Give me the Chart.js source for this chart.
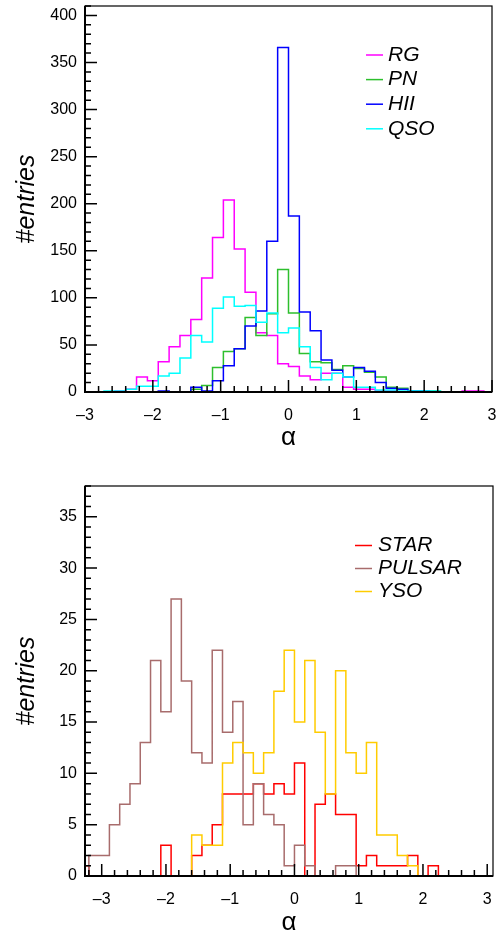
<!DOCTYPE html>
<html>
<head>
<meta charset="utf-8">
<script src="https://cdn.jsdelivr.net/npm/chart.js@4.4.1/dist/chart.umd.min.js"></script>
<style>
  html, body { margin: 0; padding: 0; background: #fff; }
  canvas { display: block; }
</style>
</head>
<body>
<canvas id="topChart" width="502" height="466"></canvas>
<canvas id="bottomChart" width="502" height="466"></canvas>
<script>
// histogram bins: width 0.16 in alpha
const binWidth = 0.16;

// top panel, first bin edge at -3.04
const topFirstEdge = -3.04;
const topLabels = ['RG', 'PN', 'HII', 'QSO'];
const rgCounts  = [0,0,0,1,3,16,12,32,48,60,77,121,164,204,152,106,63,60,30,27,17,13,20,20,5,3,3,1,1,0,0,0,0,0,0,1,1,0];
const pnCounts  = [0,0,0,0,0,0,0,0,0,0,3,7,26,43,46,79,60,83,130,84,41,32,31,24,28,25,21,16,5,4,1,1,1,0,0,0,0,0];
const hiiCounts = [0,0,0,0,0,0,0,1,0,0,5,1,12,28,46,70,86,160,366,187,85,65,34,23,16,26,22,10,4,3,1,1,0,0,0,0,0,0];
const qsoCounts = [0,0,1,1,3,6,6,17,20,36,60,53,89,101,91,92,74,84,63,68,48,26,13,20,16,5,5,2,2,1,1,1,1,0,0,0,0,0];

// bottom panel, first bin edge at -3.36
const bottomFirstEdge = -3.36;
const bottomLabels = ['STAR', 'PULSAR', 'YSO'];
const starCounts   = [1,0,0,0,0,0,0,0,3,0,0,2,3,5,8,8,8,9,8,9,8,11,0,7,8,6,6,1,2,1,1,1,2,0,1,0,0,0,0,0,0];
const pulsarCounts = [0,2,2,5,7,9,13,21,16,27,19,12,11,22,14,17,5,9,6,5,1,3,1,0,0,1,1,0,0,0,0,0,0,0,0,0,0,0,0,0,0];
const ysoCounts    = [0,0,0,0,0,0,0,0,0,0,0,4,3,3,11,13,12,10,12,18,22,15,21,14,8,20,12,10,13,4,4,2,1,0,0,0,0,0,0,0,0];

// axes
const xTickValues = [-3, -2, -1, 0, 1, 2, 3];
const topYTicks = [0, 50, 100, 150, 200, 250, 300, 350, 400];
const bottomYTicks = [0, 5, 10, 15, 20, 25, 30, 35];

const fontFamily = "'Liberation Sans', Arial, Helvetica, sans-serif";

function histPoints(firstEdge, counts) {
  const pts = [{ x: firstEdge, y: 0 }];
  counts.forEach((c, i) => pts.push({ x: firstEdge + i * binWidth, y: c }));
  pts.push({ x: firstEdge + counts.length * binWidth, y: 0 });
  return pts;
}

function makeDataset(label, firstEdge, counts, color, i) {
  return {
    label: label,
    data: histPoints(firstEdge, counts),
    borderColor: color,
    borderWidth: 1.5,
    pointRadius: 0,
    fill: false,
    stepped: 'before',
    order: -i
  };
}

function fmtTick(v) {
  return v < 0 ? '\u2013' + Math.abs(v) : String(v);
}

function noPad(s) {
  s.paddingTop = 0;
  s.paddingBottom = 0;
  s.paddingLeft = 0;
  s.paddingRight = 0;
}

// ticks drawn inside the frame, ROOT style, plus the legend box
const framePlugin = {
  id: 'frame',
  afterDatasetsDraw(chart, args, o) {
    const { ctx, chartArea: a } = chart;
    const xs = chart.scales.x, ys = chart.scales.y;
    ctx.save();
    ctx.strokeStyle = '#000';
    ctx.lineWidth = 1.5;
    ctx.beginPath();
    for (let i = Math.ceil(xs.min / o.xMinor - 1e-9); i * o.xMinor <= xs.max + 1e-9; i++) {
      const px = xs.getPixelForValue(i * o.xMinor);
      const len = (i % o.xPer === 0) ? 12 : 6;
      ctx.moveTo(px, a.bottom);
      ctx.lineTo(px, a.bottom - len);
    }
    for (let i = 0; i * o.yMinor <= ys.max + 1e-9; i++) {
      const py = ys.getPixelForValue(i * o.yMinor);
      const len = (i % o.yPer === 0) ? 12 : 6;
      ctx.moveTo(a.left, py);
      ctx.lineTo(a.left + len, py);
    }
    ctx.stroke();

    ctx.lineWidth = 1.2;
    ctx.strokeRect(a.left, a.top, a.width, a.height);
    ctx.lineWidth = 2;
    ctx.beginPath();
    ctx.moveTo(a.left, a.top);
    ctx.lineTo(a.left, a.bottom);
    ctx.lineTo(a.right, a.bottom);
    ctx.stroke();

    // legend
    ctx.font = 'italic 21px ' + fontFamily;
    ctx.textBaseline = 'middle';
    ctx.textAlign = 'left';
    chart.data.datasets.forEach((ds, i) => {
      const y = o.legendY + i * o.legendStep;
      ctx.strokeStyle = ds.borderColor;
      ctx.lineWidth = 1.5;
      ctx.beginPath();
      ctx.moveTo(o.legendX, y);
      ctx.lineTo(o.legendX + o.legendLine, y);
      ctx.stroke();
      ctx.fillStyle = '#000';
      ctx.fillText(ds.label, o.legendX + o.legendLine + o.legendGap, y);
    });
    ctx.restore();
  }
};

function makeOptions(cfg) {
  return {
    responsive: false,
    animation: false,
    devicePixelRatio: 1,
    layout: { padding: { left: 0, right: cfg.padRight, top: cfg.padTop, bottom: 0 } },
    plugins: {
      legend: { display: false },
      tooltip: { enabled: false },
      frame: cfg.frame
    },
    scales: {
      x: {
        type: 'linear',
        min: cfg.xMin,
        max: cfg.xMax,
        afterBuildTicks: s => { s.ticks = xTickValues.map(v => ({ value: v })); },
        afterFit: s => { s.height = cfg.xHeight; noPad(s); },
        grid: { display: false, drawTicks: false },
        border: { display: false },
        ticks: {
          padding: 14,
          color: '#000',
          maxRotation: 0,
          autoSkip: false,
          font: { size: 16, family: fontFamily },
          callback: v => fmtTick(v)
        },
        title: {
          display: true,
          text: '\u03b1',
          color: '#000',
          font: { size: 26, family: fontFamily, lineHeight: 1 },
          padding: { top: 0, bottom: cfg.alphaPad }
        }
      },
      y: {
        type: 'linear',
        min: 0,
        max: cfg.yMax,
        afterBuildTicks: s => { s.ticks = cfg.yTicks.map(v => ({ value: v })); },
        afterFit: s => { s.width = 85; noPad(s); },
        grid: { display: false, drawTicks: false },
        border: { display: false },
        ticks: {
          padding: 8,
          color: '#000',
          font: { size: 16, family: fontFamily }
        },
        title: {
          display: true,
          text: '#entries',
          color: '#000',
          font: { size: 25, style: 'italic', family: fontFamily, lineHeight: 1 },
          padding: { top: 15, bottom: 0 }
        }
      }
    }
  };
}

new Chart(document.getElementById('topChart'), {
  type: 'line',
  data: {
    datasets: [
      makeDataset(topLabels[0], topFirstEdge, rgCounts, '#ff00ff', 0),
      makeDataset(topLabels[1], topFirstEdge, pnCounts, '#2dbf2d', 1),
      makeDataset(topLabels[2], topFirstEdge, hiiCounts, '#0000ff', 2),
      makeDataset(topLabels[3], topFirstEdge, qsoCounts, '#00ffff', 3)
    ]
  },
  options: makeOptions({
    padRight: 10, padTop: 6, xMin: -3, xMax: 3, xHeight: 74, alphaPad: 15,
    yMax: 410, yTicks: topYTicks,
    frame: { xMinor: 0.2, xPer: 5, yMinor: 10, yPer: 5,
             legendX: 366, legendY: 55, legendStep: 24.6, legendLine: 17, legendGap: 5 }
  }),
  plugins: [framePlugin]
});

new Chart(document.getElementById('bottomChart'), {
  type: 'line',
  data: {
    datasets: [
      makeDataset(bottomLabels[0], bottomFirstEdge, starCounts, '#ff0000', 0),
      makeDataset(bottomLabels[1], bottomFirstEdge, pulsarCounts, '#a86c6c', 1),
      makeDataset(bottomLabels[2], bottomFirstEdge, ysoCounts, '#ffcc00', 2)
    ]
  },
  options: makeOptions({
    padRight: 9, padTop: 20, xMin: -3.26, xMax: 3.09, xHeight: 56, alphaPad: -4,
    yMax: 38, yTicks: bottomYTicks,
    frame: { xMinor: 0.2, xPer: 5, yMinor: 1, yPer: 5,
             legendX: 355, legendY: 79.5, legendStep: 23, legendLine: 17, legendGap: 6 }
  }),
  plugins: [framePlugin]
});
</script>
</body>
</html>
